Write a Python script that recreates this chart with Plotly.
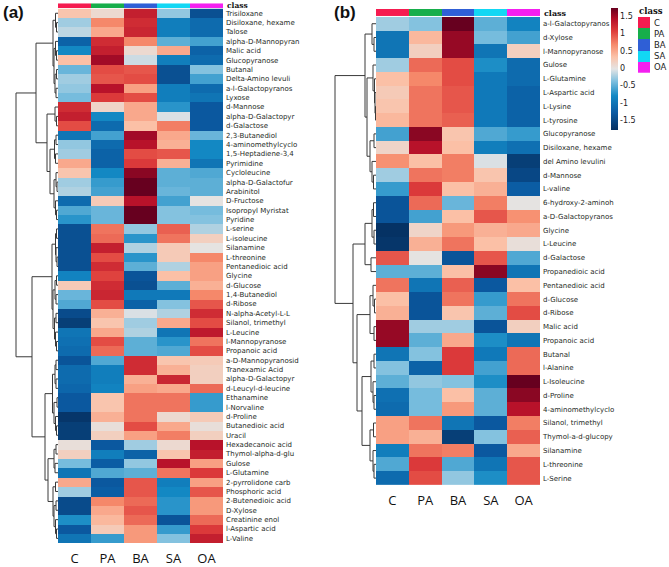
import plotly.graph_objects as go

# ---------------- data ----------------
groups = ["C", "PA", "BA", "SA", "OA"]
class_colors = ["#f51b50", "#17ae4b", "#2f5fd6", "#12d7f4", "#f41ff0"]

rows_a = ["Trisiloxane", "Disiloxane, hexame", "Talose", "alpha-D-Mannopyran", "Malic acid",
          "Glucopyranose", "Butanal", "Delta-Amino levuli", "a-l-Galactopyranos", "Lyxose",
          "d-Mannose", "alpha-D-Galactopyr", "d-Galactose", "2,3-Butanediol", "4-aminomethylcyclo",
          "1,5-Heptadiene-3,4", "Pyrimidine", "Cycloleucine", "alpha-D-Galactofur", "Arabinitol",
          "D-Fructose", "Isopropyl Myristat", "Pyridine", "L-serine", "L-isoleucine",
          "Silanamine", "L-threonine", "Pentanedioic acid", "Glycine", "d-Glucose",
          "1,4-Butanediol", "d-Ribose", "N-alpha-Acetyl-L-L", "Silanol, trimethyl", "L-Leucine",
          "l-Mannopyranose", "Propanoic acid", "a-D-Mannopyranosid", "Tranexamic Acid", "alpha-D-Galactopyr",
          "d-Leucyl-d-leucine", "Ethanamine", "l-Norvaline", "d-Proline", "Butanedioic acid",
          "Uracil", "Hexadecanoic acid", "Thymol-alpha-d-glu", "Gulose", "L-Glutamine",
          "2-pyrrolidone carb", "Phosphoric acid", "2-Butenedioic acid", "D-Xylose", "Creatinine enol",
          "l-Aspartic acid", "L-Valine"]

z_a = [
    [0.3, 0.1, 1.3, -0.3, -1.4],
    [-0.25, 0.7, 1.2, -0.9, -1.1],
    [-0.15, 0.5, 1.25, -0.9, -1.1],
    [-1.2, 1.2, 0.7, -0.5, -0.6],
    [-0.8, 1.3, 0.1, 0.5, -1.2],
    [0.35, 1.5, -0.1, -0.9, -1.1],
    [-0.45, 1.0, 0.95, -1.4, -0.35],
    [-0.25, 0.95, 1.0, -1.4, -0.6],
    [-0.3, 1.4, 0.55, -0.9, -1.1],
    [-0.4, 1.1, 1.0, -0.9, -1.0],
    [1.2, 0.15, 0.5, -0.7, -1.3],
    [1.3, -0.8, 0.5, -0.05, -1.3],
    [1.0, -1.1, 0.35, 0.75, -1.3],
    [-1.0, -0.6, 1.5, 0.5, -0.45],
    [-0.3, -1.1, 1.4, 0.45, -0.8],
    [-0.25, -1.2, 1.0, 0.95, -0.8],
    [0.5, -1.2, 1.1, 0.45, -1.0],
    [0.3, -0.8, 1.6, -0.5, -0.55],
    [-0.25, -0.65, 1.75, -0.5, -0.5],
    [-0.2, -0.6, 1.75, -0.45, -0.5],
    [-1.1, 0.25, 1.4, -0.6, 0.0],
    [-0.55, -0.45, 1.75, -0.35, -0.4],
    [-0.7, -0.45, 1.75, -0.35, -0.35],
    [-1.4, 0.8, -0.3, 0.9, -0.2],
    [-1.4, 0.85, -0.7, 0.8, 0.2],
    [-1.4, 1.3, -0.2, 0.25, 0.0],
    [-1.4, 1.0, -0.7, 0.25, 0.7],
    [-1.4, 1.2, -0.5, -0.2, 0.55],
    [-0.85, 1.05, -1.35, 0.35, 0.55],
    [0.25, 1.2, -1.4, -0.5, 0.45],
    [-0.45, 1.25, -0.95, -0.95, 0.7],
    [-0.55, 1.0, -1.2, -0.35, 0.95],
    [-1.45, 0.45, -0.05, -0.2, 1.2],
    [-1.6, 0.3, -0.25, 0.5, 1.0],
    [-1.0, 0.5, -0.2, -1.0, 1.35],
    [-1.05, 1.0, -0.5, -0.7, 0.8],
    [-1.1, 0.85, -0.5, -0.55, 1.0],
    [-1.35, -0.55, 1.2, 0.3, 0.25],
    [-1.1, -0.9, 1.2, 0.45, 0.2],
    [-1.1, -0.9, 0.45, 1.25, 0.2],
    [-1.15, -0.85, 0.55, 0.5, 0.85],
    [-1.3, 0.3, 0.8, 0.8, -0.65],
    [-1.3, 0.3, 0.8, 0.8, -0.65],
    [-1.7, 0.45, 0.8, 0.1, 0.25],
    [-1.6, 0.05, 1.0, 0.5, 0.05],
    [-1.6, 0.2, 0.55, 0.75, 0.2],
    [0.05, -1.3, -0.25, 0.1, 1.4],
    [0.2, -0.9, -1.2, 0.3, 1.3],
    [-0.4, -1.25, -0.3, 1.4, 0.55],
    [-1.0, -0.55, -0.5, 0.8, 1.1],
    [0.5, -1.3, 0.95, -0.9, 0.55],
    [-0.25, -1.25, 0.95, -0.8, 0.95],
    [-1.45, 0.7, 0.85, -0.7, 0.6],
    [-1.45, 0.5, 0.95, -0.7, 0.6],
    [-0.75, 0.4, 0.85, -1.35, 0.85],
    [-1.3, 0.25, 0.6, -0.65, 1.1],
    [-1.0, -0.65, 0.6, -0.35, 1.3],
]

rows_b = ["a-l-Galactopyranos", "d-Xylose", "l-Mannopyranose", "Gulose", "L-Glutamine",
          "L-Aspartic acid", "L-Lysine", "L-tyrosine", "Glucopyranose", "Disiloxane, hexame",
          "del Amino levulini", "d-Mannose", "L-valine", "6-hydroxy-2-aminoh", "a-D-Galactopyranos",
          "Glycine", "L-Leucine", "d-Galactose", "Propanedioic acid", "Pentanedioic acid",
          "d-Glucose", "d-Ribose", "Malic acid", "Propanoic acid", "Butanal",
          "l-Alanine", "L-Isoleucine", "d-Proline", "4-aminomethylcyclo", "Silanol, trimethyl",
          "Thymol-a-d-glucopy", "Silanamine", "L-threonine", "L-Serine"]

z_b = [
    [-0.25, -0.35, 1.75, -0.5, -0.85],
    [-1.0, 0.4, 1.55, -0.4, -0.6],
    [-1.0, 0.2, 1.55, -1.0, 0.2],
    [-0.25, 0.85, 1.0, -0.75, -1.1],
    [0.35, 0.7, 1.0, -0.95, -1.1],
    [0.25, 0.8, 0.95, -0.95, -1.2],
    [0.3, 0.8, 0.95, -0.95, -1.2],
    [0.4, 0.8, 0.9, -0.95, -1.2],
    [-0.6, 1.6, 0.3, -0.55, -0.65],
    [0.15, 1.4, 0.35, -0.9, -1.05],
    [0.65, 0.35, 0.75, -0.05, -1.6],
    [-0.25, 0.8, 0.75, 0.3, -1.5],
    [-0.65, 1.1, 0.35, 0.45, -1.25],
    [-1.35, 0.85, -0.45, 0.75, 0.0],
    [-1.35, -0.6, 0.35, 0.95, 0.65],
    [-1.75, 0.15, 0.6, 0.45, 0.5],
    [-1.7, 0.45, 0.8, 0.35, 0.05],
    [0.95, 0.0, -1.35, 0.95, -0.55],
    [-0.5, -0.5, 0.35, 1.6, -1.0],
    [0.8, -1.0, 0.9, -1.3, 0.35],
    [0.35, -1.35, 0.8, -0.65, 0.8],
    [0.45, -1.35, 0.3, -0.5, 1.0],
    [1.55, -0.25, -0.25, -1.35, 0.2],
    [1.55, -0.5, 0.5, -0.75, -1.0],
    [-1.0, -0.35, 1.1, -0.95, 0.85],
    [-0.35, -1.2, 1.1, -0.6, 0.85],
    [-0.5, -0.3, -0.35, -0.75, 1.75],
    [-1.05, -0.4, 0.35, -0.5, 1.6],
    [-1.1, -0.4, 0.6, -0.5, 1.4],
    [0.55, 0.8, -1.0, -1.3, 0.75],
    [0.55, 0.45, -1.6, -0.35, 0.9],
    [-0.9, 0.8, 0.75, -1.3, 0.5],
    [-0.55, 1.1, -0.55, -1.0, 0.95],
    [-1.1, 1.0, -0.3, -0.75, 0.95],
]

# cluster trees: [merge height, left, right]; leaves are row indices
tree_a = [42,
          [22,
           [5, [2.5, 0, [1.5, 1, 2]], [4, [2.5, 3, [1.5, 4, 5]], [3, [1.5, 6, 7], [2, 8, 9]]]],
           [11, [3, 10, [1.5, 11, 12]],
            [8, [3.5, [2, 13, 14], [2.5, 15, 16]], [4, [2, 17, [1, 18, 19]], [2.5, 20, [1.5, 21, 22]]]]]],
          [26,
           [6, [2.5, [1.5, 23, 24], [2, 25, [1, 26, 27]]],
            [5, [3, [1.5, 28, 29], [2, 30, 31]], [3.5, [2, 32, 33], [2.5, 34, [1.5, 35, 36]]]]],
           [13, [5.5, [3, [2, 37, 38], [2, 39, 40]], [4, [1, 41, 42], [2.5, 43, [1.5, 44, 45]]]],
            [10, [4, [2, 46, 47], [3, 48, 49]],
             [5, [2.5, 50, 51], [4, [2, 52, 53], [2.5, 54, [1.5, 55, 56]]]]]]]]

tree_b = [41,
          [11,
           [4, 0, [2, 1, 2]],
           [9, [3, 3, [1.5, 4, [1, 5, [0.5, 6, 7]]]], [6, [2, 8, 9], [4, 10, [2.5, 11, 12]]]]],
          [23,
           [11, [4, [2.5, 13, 14], [2, 15, 16]], [5, 17, 18]],
           [19, [6, [3, 19, [1.5, 20, 21]], [2, 22, 23]],
            [14, [5, [2, 24, 25], [3, 26, [2, 27, 28]]], [6, [2.5, 29, 30], [3, 31, [2, 32, 33]]]]]]]

cbar_ticks = [-1.5, -1, -0.5, 0, 0.5, 1, 1.5]

# ---------------- helpers ----------------
W, H = 669, 567


def px_x(a, b):
    return [a / W, b / W]


def px_y(top, bottom):
    return [1 - bottom / H, 1 - top / H]


def dendro(tree):
    xs, ys = [], []

    def rec(node):
        if isinstance(node, int):
            return node, 0.0
        h, l, r = node
        yl, hl = rec(l)
        yr, hr = rec(r)
        xs.extend([hl, h, h, hr, None])
        ys.extend([yl, yl, yr, yr, None])
        return (yl + yr) / 2, h

    rec(tree)
    return xs, ys


colorscale = [
    [0.0, "#053061"], [0.14, "#0b5aa2"], [0.28, "#1389c4"], [0.4, "#7fc0df"],
    [0.5, "#e4e4e4"], [0.6, "#fbc2a8"], [0.7, "#f68b6c"], [0.81, "#de3d3b"],
    [0.91, "#b50f29"], [1.0, "#67001f"]]
cmin, cmax = -1.77, 1.74

n_cls = len(groups)
cls_scale = []
for i, c in enumerate(class_colors):
    cls_scale.append([i / n_cls, c])
    cls_scale.append([(i + 1) / n_cls, c])

label_font = dict(family="DejaVu Sans", color="#1e2a1e")

fig = go.Figure()

# ---------- panel (a) ----------
fig.add_trace(go.Heatmap(z=z_a, x=list(range(5)), y=list(range(len(rows_a))),
                         coloraxis="coloraxis", xaxis="x", yaxis="y", hoverinfo="z"))
fig.add_trace(go.Heatmap(z=[list(range(5))], x=list(range(5)), y=[0], colorscale=cls_scale,
                         zmin=-0.5, zmax=4.5, showscale=False, xaxis="x2", yaxis="y2"))
dx, dy = dendro(tree_a)
fig.add_trace(go.Scatter(x=dx, y=dy, mode="lines", line=dict(color="#3a3a3a", width=1),
                         xaxis="x3", yaxis="y3", hoverinfo="skip", showlegend=False))

# ---------- panel (b) ----------
fig.add_trace(go.Heatmap(z=z_b, x=list(range(5)), y=list(range(len(rows_b))),
                         coloraxis="coloraxis", xaxis="x4", yaxis="y4", hoverinfo="z"))
fig.add_trace(go.Heatmap(z=[list(range(5))], x=list(range(5)), y=[0], colorscale=cls_scale,
                         zmin=-0.5, zmax=4.5, showscale=False, xaxis="x5", yaxis="y5"))
dx, dy = dendro(tree_b)
fig.add_trace(go.Scatter(x=dx, y=dy, mode="lines", line=dict(color="#3a3a3a", width=1),
                         xaxis="x6", yaxis="y6", hoverinfo="skip", showlegend=False))

# ---------- class legend ----------
fig.add_trace(go.Heatmap(z=[[i] for i in range(5)], x=[0], y=list(range(5)), colorscale=cls_scale,
                         zmin=-0.5, zmax=4.5, showscale=False, xaxis="x7", yaxis="y7"))

hid = dict(showgrid=False, zeroline=False, showticklabels=False, ticks="", showline=False)

ya_dom = px_y(8.6, 545)
yb_dom = px_y(16.9, 486.7)

fig.update_layout(
    width=W, height=H, margin=dict(l=0, r=0, t=0, b=0),
    paper_bgcolor="white", plot_bgcolor="white", showlegend=False,
    coloraxis=dict(colorscale=colorscale, cmin=cmin, cmax=cmax,
                   colorbar=dict(x=611 / W, xanchor="left", y=1 - 69 / H, yanchor="middle",
                                 lenmode="pixels", len=122, thickness=7, outlinewidth=0,
                                 xpad=0, ypad=0, tickvals=cbar_ticks,
                                 ticktext=[f"{t:g}" for t in cbar_ticks], ticks="",
                                 tickfont=dict(family="DejaVu Sans", size=8, color="#222"))),
    # heatmap a
    xaxis=dict(domain=px_x(58, 223), range=[-0.5, 4.5], tickvals=list(range(5)), ticktext=groups,
               showgrid=False, zeroline=False, ticks="", ticklabelstandoff=6,
               tickfont=dict(family="Open Sans", size=13, color="#111")),
    yaxis=dict(domain=ya_dom, range=[len(rows_a) - 0.5, -0.5], side="right",
               tickvals=list(range(len(rows_a))), ticktext=rows_a, showgrid=False,
               zeroline=False, ticks="", ticklabelstandoff=2,
               tickfont=dict(size=7, **label_font)),
    # class bar a
    xaxis2=dict(domain=px_x(58, 223), range=[-0.5, 4.5], anchor="y2", **hid),
    yaxis2=dict(domain=px_y(3.3, 8.0), range=[-0.5, 0.5], anchor="x2", **hid),
    # dendrogram a
    xaxis3=dict(domain=px_x(0, 58), range=[58, 0], anchor="y3", **hid),
    yaxis3=dict(domain=ya_dom, range=[len(rows_a) - 0.5, -0.5], anchor="x3", **hid),
    # heatmap b
    xaxis4=dict(domain=px_x(376, 540), range=[-0.5, 4.5], anchor="y4", tickvals=list(range(5)),
                ticktext=groups, showgrid=False, zeroline=False, ticks="", ticklabelstandoff=6,
                tickfont=dict(family="Open Sans", size=13, color="#111")),
    yaxis4=dict(domain=yb_dom, range=[len(rows_b) - 0.5, -0.5], anchor="x4", side="right",
                tickvals=list(range(len(rows_b))), ticktext=rows_b, showgrid=False,
                zeroline=False, ticks="", ticklabelstandoff=2,
                tickfont=dict(size=7, **label_font)),
    # class bar b
    xaxis5=dict(domain=px_x(376, 540), range=[-0.5, 4.5], anchor="y5", **hid),
    yaxis5=dict(domain=px_y(9, 16.4), range=[-0.5, 0.5], anchor="x5", **hid),
    # dendrogram b
    xaxis6=dict(domain=px_x(330, 376), range=[46, 0], anchor="y6", **hid),
    yaxis6=dict(domain=yb_dom, range=[len(rows_b) - 0.5, -0.5], anchor="x6", **hid),
    # class legend
    xaxis7=dict(domain=px_x(638, 650), range=[-0.5, 0.5], anchor="y7", **hid),
    yaxis7=dict(domain=px_y(17, 73), range=[4.5, -0.5], anchor="x7", side="right",
                tickvals=list(range(5)), ticktext=groups, showgrid=False, zeroline=False,
                ticks="", showline=False, ticklabelstandoff=3,
                tickfont=dict(family="DejaVu Sans", size=8.5, color="#222")),
)

annos = [
    dict(text="<b>(a)</b>", x=1 / W, y=1 - 1 / H, xanchor="left", yanchor="top",
         font=dict(family="Liberation Sans", size=17, color="#111")),
    dict(text="<b>(b)</b>", x=332 / W, y=1 - 1 / H, xanchor="left", yanchor="top",
         font=dict(family="Liberation Sans", size=17, color="#111")),
    dict(text="<b>class</b>", x=225 / W, y=1 - 5.8 / H, xanchor="left", yanchor="middle",
         font=dict(family="DejaVu Serif", size=7.5, color="#111")),
    dict(text="<b>class</b>", x=542 / W, y=1 - 12.8 / H, xanchor="left", yanchor="middle",
         font=dict(family="DejaVu Serif", size=8, color="#111")),
    dict(text="<b>class</b>", x=637 / W, y=1 - 11 / H, xanchor="left", yanchor="middle",
         font=dict(family="DejaVu Serif", size=8.5, color="#111")),
]
for a in annos:
    a.update(xref="paper", yref="paper", showarrow=False)
fig.update_layout(annotations=annos)

fig.write_html("out.html", config={"displayModeBar": False},
               post_script="document.body.style.margin='0';document.body.style.overflow='hidden';")
